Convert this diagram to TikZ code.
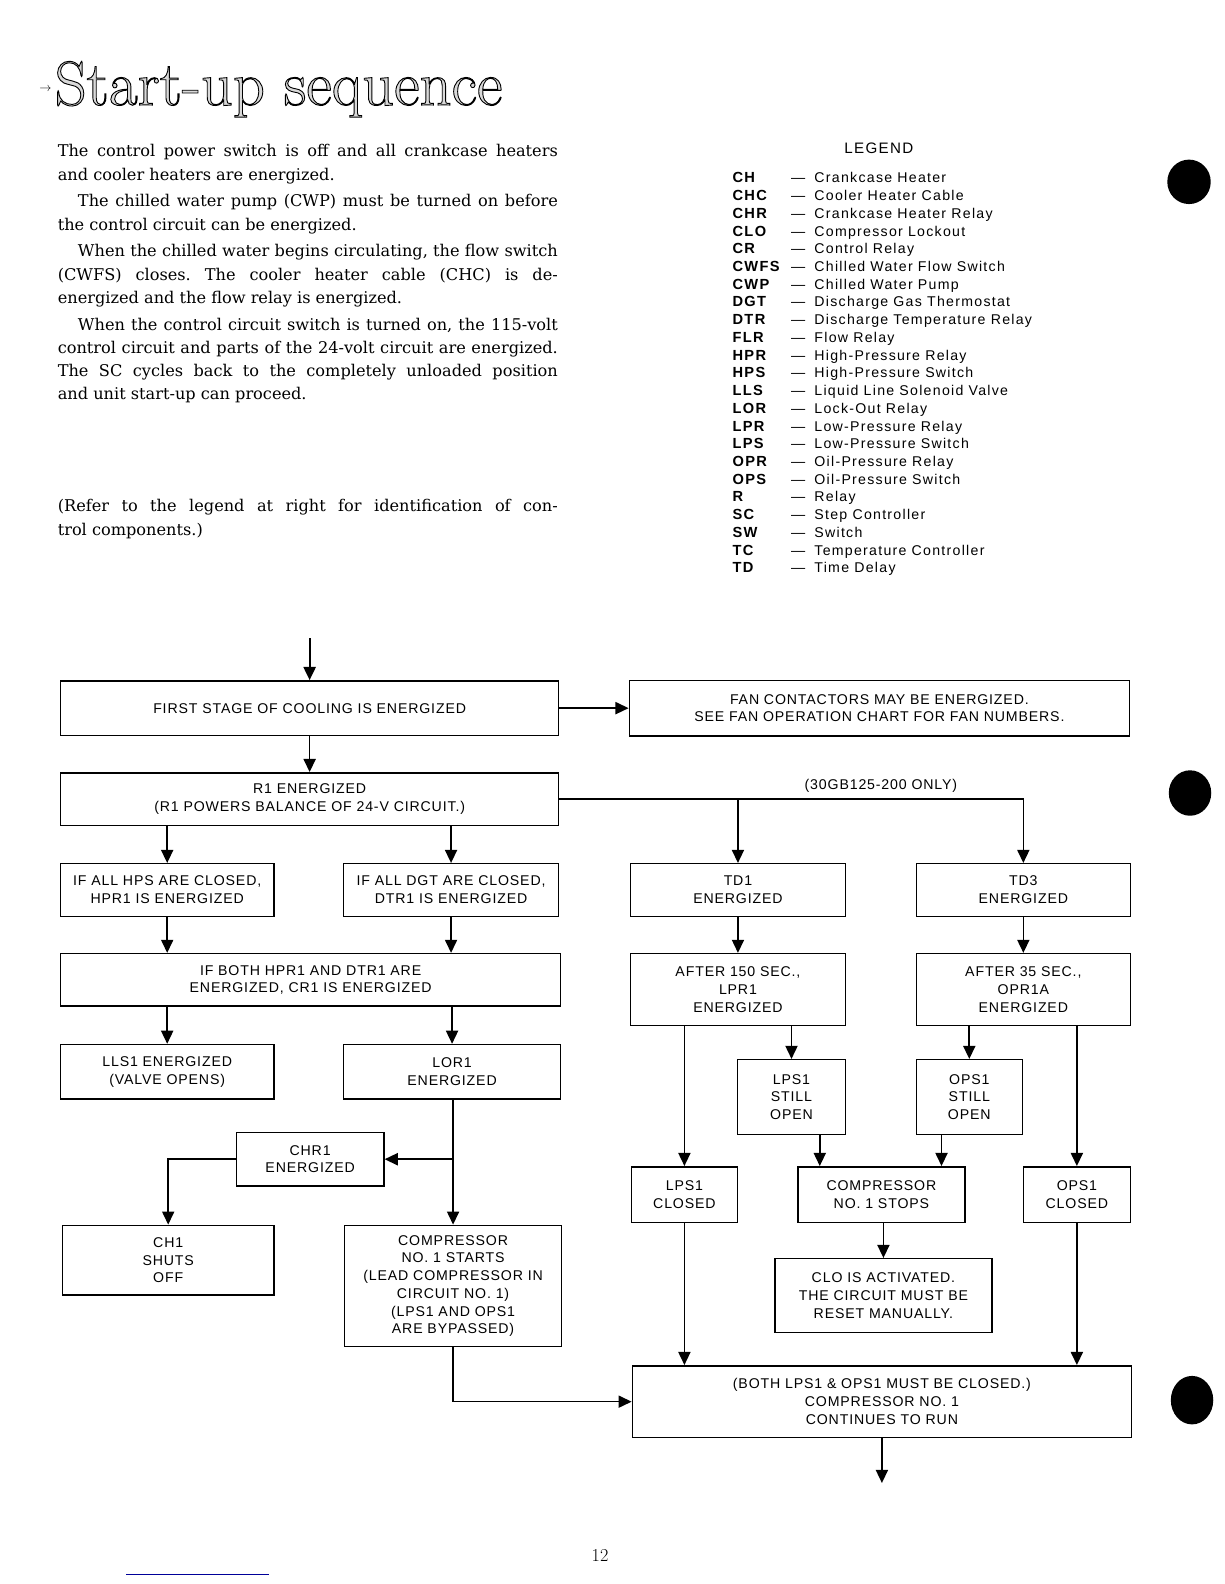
\documentclass[tikz,border=0pt]{standalone}
\usepackage{fontspec}
\newfontfamily\chartfont[LetterSpace=6]{Liberation Sans}
\newfontfamily\legendfont[LetterSpace=9]{Liberation Sans}
\newfontfamily\bodyfont{DejaVu Serif}
\usetikzlibrary{arrows.meta}
\usetikzlibrary{positioning}
\tikzset{
    box/.style = {draw,line width=1.5pt,inner sep=2pt,align=center,
        font=\chartfont\fontsize{14}{17.6}\selectfont},
    chartlabel/.style = {inner sep=0,font=\chartfont\fontsize{14}{17.6}\selectfont},
    arr/.style = {-{Triangle[length=13pt,width=12pt]},line width=1.6pt},
    bodytext/.style = {anchor=north west,inner sep=0,text width=495pt,align=justify},
    legtext/.style = {anchor=base west,inner sep=0,font=\legendfont\fontsize{14}{17}\selectfont},
    legabbr/.style = {legtext,font=\legendfont\bfseries\fontsize{14.5}{17}\selectfont}
}
\newcommand\outlined[1]{\special{pdf:literal direct 0 G 0.9 w 2 Tr}#1\special{pdf:literal direct 0 Tr}}
\begin{document}
\begin{tikzpicture}[x=1pt,y=-1pt]
    \useasboundingbox (0,0) rectangle (1212,1568);
    \fill[white] (0,0) rectangle (1212,1568);
    % Heading
    \node[inner sep=0,font=\fontsize{12}{12}\selectfont] (headarrow) at (45,88) {$\rightarrow$};
    \node[anchor=base west,inner sep=0,text=black!15,font=\fontsize{62}{64}\selectfont]
        (heading) at (54,104) {\outlined{Start-up sequence}};
    % Running text
    \node[bodytext,font=\bodyfont\fontsize{16}{23}\selectfont] (intro) at (57,143) {%
        \hyphenpenalty=10000\frenchspacing\setlength\parskip{3.5pt}%
        The control power switch is off and all crankcase heaters\linebreak
        and cooler heaters are energized.\par
        \hspace*{20pt}The chilled water pump (CWP) must be turned on before\linebreak
        the control circuit can be energized.\par
        \hspace*{20pt}When the chilled water begins circulating, the flow switch\linebreak
        (CWFS) closes. The cooler heater cable (CHC) is de-\linebreak
        energized and the flow relay is energized.\par
        \hspace*{20pt}When the control circuit switch is turned on, the 115-volt\linebreak
        control circuit and parts of the 24-volt circuit are energized.\linebreak
        The SC cycles back to the completely unloaded position\linebreak
        and unit start-up can proceed.};
    \node[bodytext,font=\bodyfont\fontsize{16}{24}\selectfont] (refer) at (57,494) {%
        \hyphenpenalty=10000\frenchspacing%
        (Refer to the legend at right for identification of con-\linebreak
        trol components.)};
    % Legend
    \node[legtext,anchor=base,font=\legendfont\fontsize{15}{17}\selectfont] (legend) at (870,152) {LEGEND};
    \foreach [count=\i] \abbr/\desc in {CH/Crankcase Heater,CHC/Cooler Heater Cable,
        CHR/Crankcase Heater Relay,CLO/Compressor Lockout,CR/Control Relay,
        CWFS/Chilled Water Flow Switch,CWP/Chilled Water Pump,
        DGT/Discharge Gas Thermostat,DTR/Discharge Temperature Relay,FLR/Flow Relay,
        HPR/High-Pressure Relay,HPS/High-Pressure Switch,LLS/Liquid Line Solenoid Valve,
        LOR/Lock-Out Relay,LPR/Low-Pressure Relay,LPS/Low-Pressure Switch,
        OPR/Oil-Pressure Relay,OPS/Oil-Pressure Switch,R/Relay,SC/Step Controller,
        SW/Switch,TC/Temperature Controller,TD/Time Delay}
    {
        \node[legabbr] (abbr\i) at (725,{181+(\i-1)*17.55}) {\abbr};
        \node[legtext] (dash\i) at (783,{181+(\i-1)*17.55}) {—};
        \node[legtext] (desc\i) at (806,{181+(\i-1)*17.55}) {\desc};
    }
    % Boxes, left column
    \node[box,minimum width=493pt,minimum height=54pt] (first) at (306.5,701)
        {FIRST STAGE OF COOLING IS ENERGIZED};
    \node[box,minimum width=493pt,minimum height=52pt] (r1) at (306.5,791)
        {R1 ENERGIZED\\(R1 POWERS BALANCE OF 24-V CIRCUIT.)};
    \node[box,minimum width=211pt,minimum height=52pt] (hps) at (165.5,881)
        {IF ALL HPS ARE CLOSED,\\HPR1 IS ENERGIZED};
    \node[box,minimum width=213pt,minimum height=52pt] (dgt) at (446.5,881)
        {IF ALL DGT ARE CLOSED,\\DTR1 IS ENERGIZED};
    \node[box,minimum width=495pt,minimum height=52pt] (cr1) at (307.5,970)
        {IF BOTH HPR1 AND DTR1 ARE\\ENERGIZED, CR1 IS ENERGIZED};
    \node[box,minimum width=211pt,minimum height=54pt] (lls1) at (165.5,1061)
        {LLS1 ENERGIZED\\(VALVE OPENS)};
    \node[box,minimum width=215pt,minimum height=54pt] (lor1) at (447.5,1061)
        {LOR1\\ENERGIZED};
    \node[box,minimum width=146pt,minimum height=53pt] (chr1) at (307,1147.5)
        {CHR1\\ENERGIZED};
    \node[box,minimum width=209pt,minimum height=69pt] (ch1) at (166.5,1247.5)
        {CH1\\SHUTS\\OFF};
    \node[box,minimum width=215pt,minimum height=120pt] (start) at (448.5,1273)
        {COMPRESSOR\\NO. 1 STARTS\\(LEAD COMPRESSOR IN\\CIRCUIT NO. 1)\\(LPS1 AND OPS1\\ARE BYPASSED)};
    % Boxes, right column
    \node[box,minimum width=495pt,minimum height=55pt] (fan) at (870.5,701)
        {FAN CONTACTORS MAY BE ENERGIZED.\\SEE FAN OPERATION CHART FOR FAN NUMBERS.};
    \node[box,minimum width=213pt,minimum height=52pt] (td1) at (730.5,881) {TD1\\ENERGIZED};
    \node[box,minimum width=212pt,minimum height=52pt] (td3) at (1013,881) {TD3\\ENERGIZED};
    \node[box,minimum width=213pt,minimum height=71pt] (after150) at (730.5,979.5)
        {AFTER 150 SEC.,\\LPR1\\ENERGIZED};
    \node[box,minimum width=212pt,minimum height=71pt] (after35) at (1013,979.5)
        {AFTER 35 SEC.,\\OPR1A\\ENERGIZED};
    \node[box,minimum width=107pt,minimum height=74pt] (lps1open) at (783.5,1086)
        {LPS1\\STILL\\OPEN};
    \node[box,minimum width=105pt,minimum height=74pt] (ops1open) at (959.5,1086)
        {OPS1\\STILL\\OPEN};
    \node[box,minimum width=105pt,minimum height=55pt] (lps1closed) at (677.5,1182.5)
        {LPS1\\CLOSED};
    \node[box,minimum width=165pt,minimum height=55pt] (stops) at (872.5,1182.5)
        {COMPRESSOR\\NO. 1 STOPS};
    \node[box,minimum width=106pt,minimum height=55pt] (ops1closed) at (1066,1182.5)
        {OPS1\\CLOSED};
    \node[box,minimum width=215pt,minimum height=73pt] (clo) at (874.5,1282.5)
        {CLO IS ACTIVATED.\\THE CIRCUIT MUST BE\\RESET MANUALLY.};
    \node[box,minimum width=494pt,minimum height=71pt] (cont) at (873,1387.5)
        {(BOTH LPS1 \& OPS1 MUST BE CLOSED.)\\COMPRESSOR NO. 1\\CONTINUES TO RUN};
    \node[chartlabel] (only) at (872,778) {(30GB125-200 ONLY)};
    % Free ends
    \coordinate (in) at (306.5,632);
    \coordinate (out) at (873,1468);
    % Arrows
    \draw[arr,line width=2pt] (in) to (first.north);
    \draw[arr] (first.east) to (fan.west);
    \draw[arr] (r1.east) -| (td3.north);
    \draw[arr] (r1.east -| td1.north) to (td1.north);
    \foreach \src/\dest in {first/r1,r1/hps,r1/dgt,cr1/lls1,cr1/lor1,td1/after150,
        td3/after35,after150/lps1open,after35/ops1open,after150/lps1closed,
        after35/ops1closed,stops/clo,lor1/start}
        \draw[arr] (\src.south -| \dest.north) to (\dest.north);
    \foreach \src/\dest in {hps/cr1,dgt/cr1,lps1closed/cont,ops1closed/cont}
        \draw[arr] (\src.south) to (\src.south |- \dest.north);
    \draw[arr] ([xshift=28pt]lps1open.south) to ([xshift=28pt]lps1open.south |- stops.north);
    \draw[arr] ([xshift=-27.5pt]ops1open.south) to ([xshift=-27.5pt]ops1open.south |- stops.north);
    \draw[arr] (lor1.south |- chr1.east) to (chr1.east);
    \draw[arr] (chr1.west) -| (ch1.north);
    \draw[arr] (start.south) |- (cont.west);
    \draw[arr] (cont.south) to (out);
    % Punch holes, page number
    \fill (1177,180) ellipse (21.5 and 22);
    \fill (1178,785) ellipse (21 and 22.5);
    \fill (1180,1386) ellipse (21 and 24);
    \node[inner sep=0,font=\fontsize{18}{20}\selectfont] (page) at (594,1540) {12};
    \draw[blue!60!black,line width=1pt] (125,1559) -- (266,1559);
\end{tikzpicture}
\end{document}
